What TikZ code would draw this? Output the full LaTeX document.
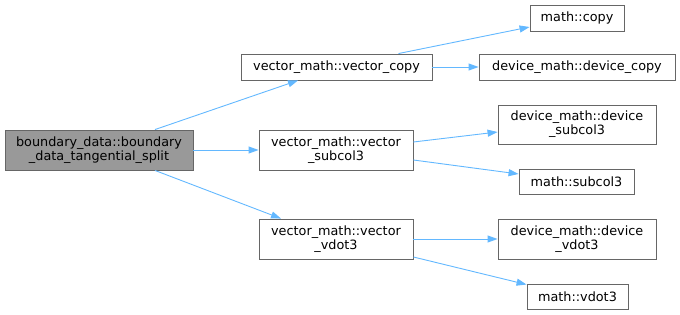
\documentclass[tikz,border=0pt]{standalone}
\usepackage{fontspec}
\setmainfont{DejaVu Sans}
\usetikzlibrary{arrows.meta}
\definecolor{edgeblue}{HTML}{63B8FF}
\definecolor{boxborder}{HTML}{666666}
\definecolor{rootfill}{HTML}{999999}
\begin{document}
\begin{tikzpicture}[x=1pt,y=-1pt,
  box/.style={draw=boxborder,fill=white,line width=0.9pt,inner sep=0pt,align=center,
    font=\fontsize{12.8}{14}\selectfont},
  rootbox/.style={box,fill=rootfill},
  call/.style={draw=edgeblue,line width=0.9pt,-{Triangle[length=10pt,width=7pt]}}]
\useasboundingbox (0,0) rectangle (680,315);
\node[rootbox,minimum width=188pt,minimum height=40pt] (root) at (99,150) {boundary\_data::boundary\\\_data\_tangential\_split};
\node[box,minimum width=191pt,minimum height=26pt] (vcopy) at (336.5,67) {vector\_math::vector\_copy};
\node[box,minimum width=196pt,minimum height=26pt] (dcopy) at (577,67) {device\_math::device\_copy};
\node[box,minimum width=94pt,minimum height=26pt] (mcopy) at (577,18) {math::copy};
\node[box,minimum width=154pt,minimum height=40pt] (vsub) at (336,150) {vector\_math::vector\\\_subcol3};
\node[box,minimum width=158pt,minimum height=39pt] (dsub) at (577,124.5) {device\_math::device\\\_subcol3};
\node[box,minimum width=115pt,minimum height=25pt] (msub) at (576.5,181.5) {math::subcol3};
\node[box,minimum width=154pt,minimum height=40pt] (vvdot) at (336,239) {vector\_math::vector\\\_vdot3};
\node[box,minimum width=158pt,minimum height=40pt] (dvdot) at (577,239) {device\_math::device\\\_vdot3};
\node[box,minimum width=101pt,minimum height=25pt] (mvdot) at (577.5,296.5) {math::vdot3};
\draw[call] ([xshift=56pt]root.north) -- ([xshift=-38.5pt]vcopy.south);
\draw[call] (root.east) -- (vsub.west);
\draw[call] ([xshift=56pt]root.south) -- ([xshift=-55pt]vvdot.north);
\draw[call] ([xshift=62pt]vcopy.north) -- ([yshift=-9pt]mcopy.west);
\draw[call] (vcopy.east) -- (dcopy.west);
\draw[call] ([yshift=8pt]vsub.east) -- ([yshift=-7.5pt]dsub.west);
\draw[call] ([yshift=-10pt]vsub.east) -- ([yshift=7.5pt]msub.west);
\draw[call] (vvdot.east) -- (dvdot.west);
\draw[call] ([yshift=-18pt]vvdot.east) -- ([yshift=-1pt]mvdot.north west);
\end{tikzpicture}
\end{document}
